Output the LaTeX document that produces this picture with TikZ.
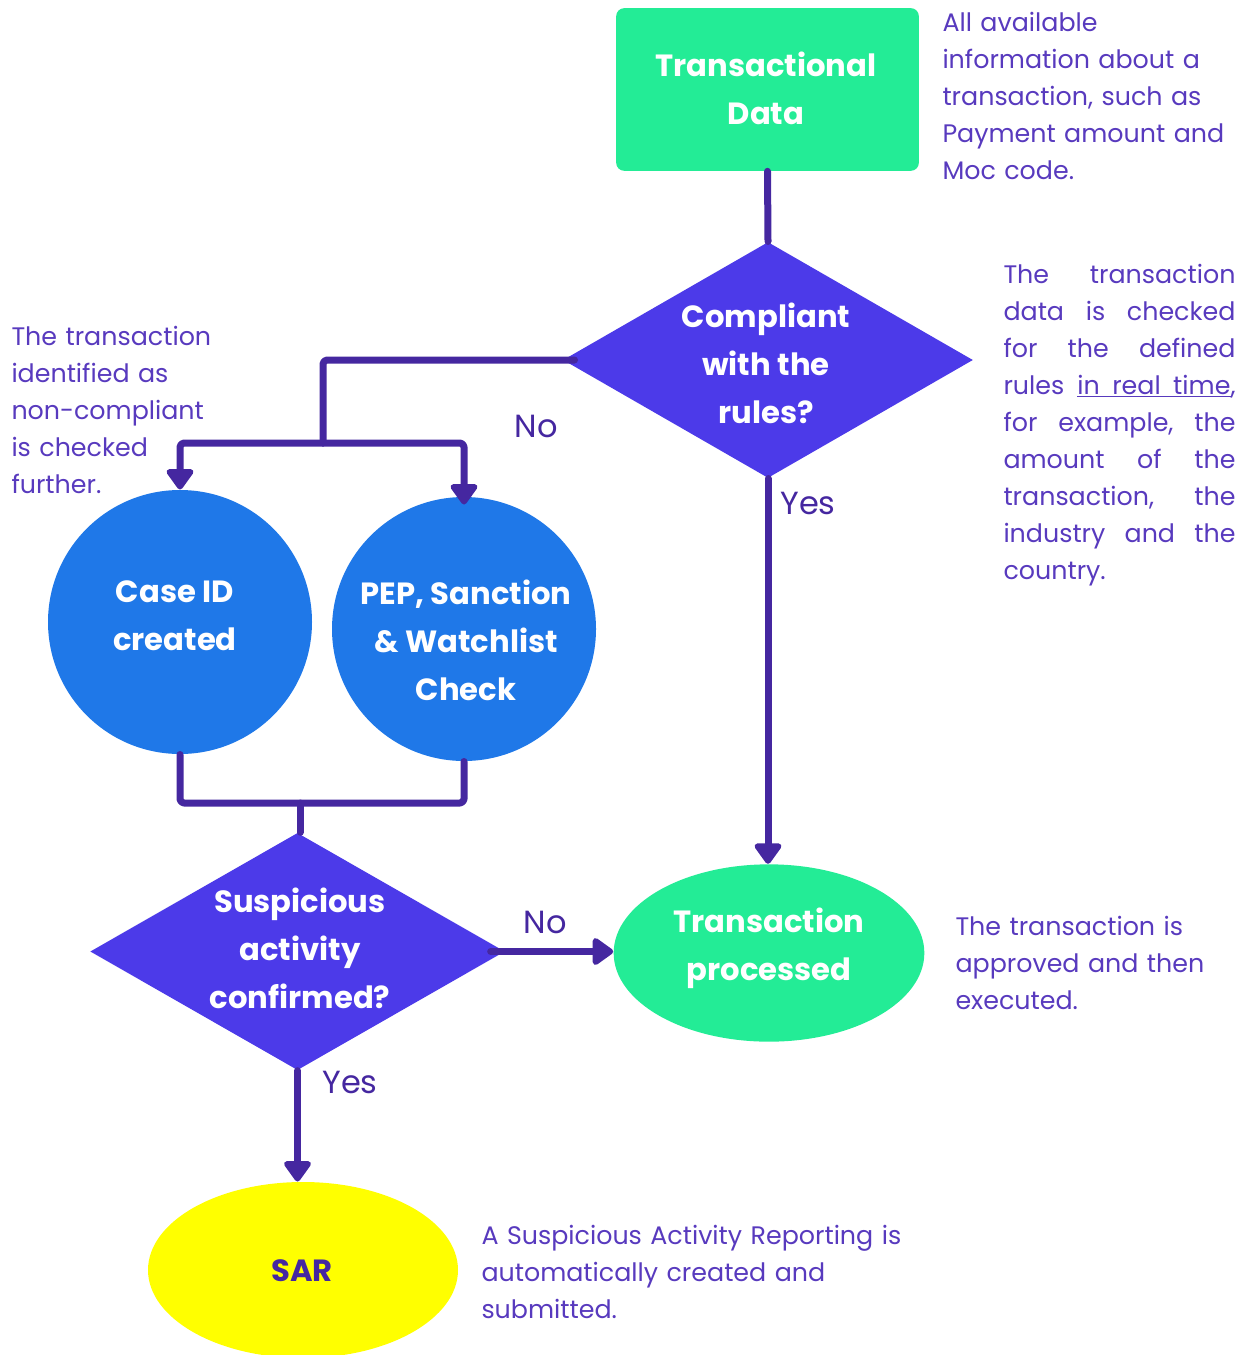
\documentclass[tikz,border=0pt]{standalone}
\usepackage{fontspec}
\setmainfont{Poppins}
\usetikzlibrary{shapes.geometric,arrows.meta}

\definecolor{flowgreen}{RGB}{35,236,150}
\definecolor{flowviolet}{RGB}{76,58,233}
\definecolor{flowblue}{RGB}{31,120,232}
\definecolor{flowline}{RGB}{69,39,160}
\definecolor{flowtext}{RGB}{88,58,190}
\definecolor{flowyellow}{RGB}{255,255,0}

% one justified line, words split by \hfill
\newcommand{\jline}[1]{\makebox[174pt][s]{#1}}

\tikzset{every picture/.style={line width=0.75pt}}
\tikzset{
  bigtxt/.style={font=\fontsize{23}{36}\selectfont\bfseries, color=white, align=center, inner sep=0pt},
  desctxt/.style={font=\fontsize{19}{27.75}\selectfont, color=flowtext, inner sep=0pt, anchor=base west, align=left},
  yesno/.style={font=\fontsize{24}{28}\selectfont, color=flowline, inner sep=0pt},
  conn/.style={draw=flowline, line width=5.25pt, line join=round, line cap=round, rounded corners=3pt},
  flowarrow/.style={conn, -{Triangle[width=23pt,length=17pt,round]}}
}

\begin{document}
\begin{tikzpicture}[x=0.75pt,y=0.75pt,yscale=-1,xscale=1]
\useasboundingbox (0,0) rectangle (1247,1355);

%Shape: Rectangle
\node [fill=flowgreen, rounded corners=6pt, minimum width=227pt, minimum height=122pt, inner sep=0pt] (data) at (767.5,89.5) {};
%Shape: Diamond
\node [diamond, fill=flowviolet, minimum width=307.5pt, minimum height=177pt, inner sep=0pt] (comp) at (768,360) {};
%Shape: Circle
\node [circle, fill=flowblue, minimum size=198pt, inner sep=0pt] (case) at (180,622) {};
%Shape: Circle
\node [circle, fill=flowblue, minimum size=198pt, inner sep=0pt] (pep) at (464,629) {};
%Shape: Diamond
\node [diamond, fill=flowviolet, minimum width=311pt, minimum height=178pt, inner sep=0pt] (susp) at (297.5,951.5) {};
%Shape: Ellipse
\node [ellipse, fill=flowgreen, minimum width=233pt, minimum height=133pt, inner sep=0pt] (proc) at (769,953) {};
%Shape: Ellipse
\node [ellipse, fill=flowyellow, minimum width=232.5pt, minimum height=132pt, inner sep=0pt] (sar) at (303,1270) {};

%Straight Lines
\coordinate (split) at (323,443);
\coordinate (join) at (300,803);
\draw [conn] (data.south) -- (comp.north) ;
\draw [conn] ([xshift=9pt]comp.west) -| (split) ;
\draw [flowarrow] (split) -| (case.north) ;
\draw [flowarrow] (split) -| ([yshift=6pt]pep.north) ;
\draw [conn] (case.south) |- (join) -| (pep.south) ;
\draw [conn] (join) -- (join |- susp.north) ;
\draw [flowarrow] (comp.south) -- (comp.south |- proc.north) ;
\draw [flowarrow] ([xshift=-11pt]susp.east) -- (susp.east -| proc.west) ;
\draw [flowarrow] (susp.south) -- (susp.south |- sar.north) ;

% Text Node
\node [bigtxt] (datatxt) at (766,88) {Transactional\\Data};
% Text Node
\node [bigtxt] (comptxt) at (766,363) {Compliant\\with the\\rules?};
% Text Node
\node [bigtxt] (casetxt) at (175,615.5) {Case ID\\created};
% Text Node
\node [bigtxt] (peptxt) at (466,640) {PEP, Sanction\\\& Watchlist\\Check};
% Text Node
\node [bigtxt] (susptxt) at (300,948) {Suspicious\\activity\\confirmed?};
% Text Node
\node [bigtxt] (proctxt) at (769,948.5) {Transaction\\processed};
% Text Node
\node [bigtxt, color=flowline] (sartxt) at (302,1271) {SAR};

% Text Node
\node [yesno] (no1) at (536,426) {No};
% Text Node
\node [yesno] (yes1) at (808,503) {Yes};
% Text Node
\node [yesno] (no2) at (545,922) {No};
% Text Node
\node [yesno] (yes2) at (350,1082) {Yes};

% Text Node
\node [desctxt, text width=225pt] (datadesc) at (942,32) {All available\\information about a\\transaction, such as\\Payment amount and\\Moc code.};
% Text Node
\node [desctxt, text width=174pt] (compdesc) at (1003,283) {\jline{The\hfill transaction}\\\jline{data\hfill is\hfill checked}\\\jline{for\hfill the\hfill defined}\\\jline{rules\hfill\underline{in\ \hspace{3pt}real\ \hspace{3pt}time},}\\\jline{for\hfill example,\hfill the}\\\jline{amount\hfill of\hfill the}\\\jline{transaction,\hfill the}\\\jline{industry\hfill and\hfill the}\\country.};
% Text Node
\node [desctxt, text width=170pt] (splitdesc) at (11,345) {The transaction\\identified as\\non-compliant\\is checked\\further.};
% Text Node
\node [desctxt, text width=220pt] (procdesc) at (955,935) {The transaction is\\approved and then\\executed.};
% Text Node
\node [desctxt, text width=330pt] (sardesc) at (481,1244) {A Suspicious Activity Reporting is\\automatically created and\\submitted.};

\end{tikzpicture}
\end{document}
